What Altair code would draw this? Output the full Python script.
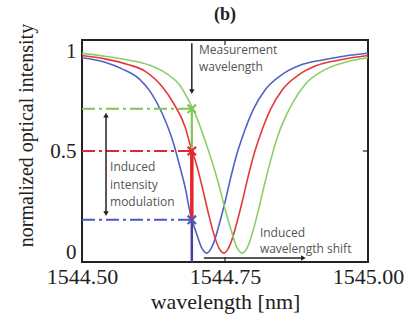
import altair as alt
import pandas as pd

# ---- curve data ----
blue_wl = [1544.50, 1544.54, 1544.57, 1544.60, 1544.62, 1544.64, 1544.66, 1544.67, 1544.68, 1544.69,
           1544.70, 1544.71, 1544.718, 1544.73, 1544.74, 1544.75, 1544.76, 1544.77, 1544.78, 1544.80,
           1544.82, 1544.85, 1544.88, 1544.92, 1544.96, 1545.00]
blue_t = [0.92, 0.90, 0.87, 0.825, 0.765, 0.67, 0.535, 0.44, 0.34, 0.21,
          0.13, 0.06, 0.04, 0.085, 0.17, 0.27, 0.38, 0.48, 0.56, 0.69,
          0.775, 0.845, 0.885, 0.91, 0.928, 0.94]

red_wl = [1544.50, 1544.54, 1544.58, 1544.61, 1544.64, 1544.66, 1544.68, 1544.69, 1544.70, 1544.71,
          1544.72, 1544.73, 1544.74, 1544.748, 1544.76, 1544.77, 1544.78, 1544.79, 1544.80, 1544.81,
          1544.83, 1544.85, 1544.88, 1544.91, 1544.95, 1545.00]
red_t = [0.93, 0.915, 0.89, 0.86, 0.79, 0.715, 0.61, 0.52, 0.44, 0.34,
         0.23, 0.13, 0.06, 0.04, 0.085, 0.17, 0.27, 0.38, 0.48, 0.56,
         0.69, 0.775, 0.845, 0.885, 0.91, 0.93]

green_wl = [1544.50, 1544.54, 1544.58, 1544.62, 1544.65, 1544.67, 1544.69, 1544.70, 1544.71, 1544.72,
            1544.73, 1544.74, 1544.75, 1544.76, 1544.77, 1544.78, 1544.79, 1544.80, 1544.81, 1544.82,
            1544.83, 1544.84, 1544.85, 1544.87, 1544.89, 1544.92, 1544.96, 1545.00]
green_t = [0.94, 0.927, 0.91, 0.885, 0.845, 0.80, 0.71, 0.655, 0.585, 0.51,
           0.43, 0.34, 0.24, 0.15, 0.07, 0.04, 0.07, 0.15, 0.25, 0.36,
           0.46, 0.55, 0.62, 0.725, 0.80, 0.86, 0.90, 0.92]

series_names = ["blue", "red", "green"]
series_colors = ["#5262c2", "#e4383b", "#8ccf66"]

measure_wl = 1544.692
levels = [0.19, 0.50, 0.69]
level_colors = ["#4d58b8", "#e02a2e", "#7fc655"]
seg_bottoms = [0.0, 0.19, 0.50]
seg_tops = [0.19, 0.50, 0.69]
seg_colors = ["#4a3f9c", "#e8242a", "#7fc655"]
seg_widths = [2.5, 3.5, 2.2]

x_ticks = [1544.50, 1544.75, 1545.00]
y_ticks = [0, 0.5, 1]

# ---- tables ----
curves = pd.concat([
    pd.DataFrame({"wl": blue_wl, "t": blue_t, "series": "blue"}),
    pd.DataFrame({"wl": red_wl, "t": red_t, "series": "red"}),
    pd.DataFrame({"wl": green_wl, "t": green_t, "series": "green"}),
])
hlines = pd.DataFrame({"x1": [1544.5] * 3, "x2": [measure_wl] * 3, "y": levels, "c": level_colors})
vsegs = pd.DataFrame({"x": [measure_wl] * 3, "y1": seg_bottoms, "y2": seg_tops,
                      "c": seg_colors, "w": seg_widths})
marks = pd.DataFrame({"x": [measure_wl] * 3, "y": levels, "c": level_colors})

x_scale = alt.Scale(domain=[1544.5, 1545.0], nice=False, zero=False)
y_scale = alt.Scale(domain=[0, 1], nice=False)
serif = "Liberation Serif"
sans = "Open Sans"
ann_color = "#555555"

lines = alt.Chart(curves).mark_line(strokeWidth=1.6, interpolate="monotone", clip=True).encode(
    x=alt.X("wl:Q", scale=x_scale,
            axis=alt.Axis(values=x_ticks, format=".2f", title="wavelength [nm]",
                          labelFont=serif, labelFontSize=22, labelColor="#222", labelPadding=4,
                          labelFlush=False, titleFont=serif, titleFontSize=22, titleFontWeight="normal",
                          titleColor="#222", titlePadding=4)),
    y=alt.Y("t:Q", scale=y_scale,
            axis=alt.Axis(values=y_ticks, labelExpr="datum.value == 0.5 ? '0.5' : format(datum.value, 'd')",
                          title="normalized optical intensity",
                          labelFont=serif, labelFontSize=21, labelColor="#222", labelPadding=6,
                          labelFlush=True, titleFont=serif, titleFontSize=20, titleFontWeight="normal",
                          titleColor="#222", titleAngle=-90, titleX=-56, titleY=95,
                          titleAlign="center", titleBaseline="middle")),
    color=alt.Color("series:N", scale=alt.Scale(domain=series_names, range=series_colors), legend=None),
    detail="series:N",
)

dash = alt.Chart(hlines).mark_rule(strokeWidth=2, strokeDash=[13, 4, 3, 4]).encode(
    x=alt.X("x1:Q", scale=x_scale), x2="x2:Q", y=alt.Y("y:Q", scale=y_scale),
    color=alt.Color("c:N", scale=None),
)

vert = alt.Chart(vsegs).mark_rule().encode(
    x=alt.X("x:Q", scale=x_scale), y=alt.Y("y1:Q", scale=y_scale), y2="y2:Q",
    color=alt.Color("c:N", scale=None), strokeWidth=alt.StrokeWidth("w:Q", scale=None),
)

xmarks = alt.Chart(marks).mark_point(shape="M-1,-1L1,1M-1,1L1,-1", filled=False, size=70,
                                     strokeWidth=2.2, opacity=1).encode(
    x=alt.X("x:Q", scale=x_scale), y=alt.Y("y:Q", scale=y_scale),
    color=alt.Color("c:N", scale=None),
)

# ---- annotation arrows ----
arrow_rules = pd.DataFrame({
    "x1": [measure_wl, 1544.542, 1544.713],
    "x2": [measure_wl, 1544.542, 1544.885],
    "y1": [0.985, 0.655, 0.018],
    "y2": [0.775, 0.225, 0.018],
})
arrows = alt.Chart(arrow_rules).mark_rule(strokeWidth=1.5, color="#222").encode(
    x=alt.X("x1:Q", scale=x_scale), x2="x2:Q",
    y=alt.Y("y1:Q", scale=y_scale), y2="y2:Q",
)
heads = pd.DataFrame({
    "x": [measure_wl, 1544.542, 1544.542, 1544.887],
    "y": [0.768, 0.662, 0.218, 0.018],
    "shape": ["triangle-down", "triangle-up", "triangle-down", "triangle-right"],
})
arrow_heads = alt.Chart(heads).mark_point(filled=True, size=30, color="#222", opacity=1).encode(
    x=alt.X("x:Q", scale=x_scale), y=alt.Y("y:Q", scale=y_scale),
    shape=alt.Shape("shape:N", scale=None),
)

# inward ticks
tick_df = pd.DataFrame({
    "x1": [1544.75, 1544.75, 1544.991],
    "x2": [1544.75, 1544.75, 1545.0],
    "y1": [0.0, 0.977, 0.5],
    "y2": [0.023, 1.0, 0.5],
})
ticks = alt.Chart(tick_df).mark_rule(strokeWidth=1.2, color="#222").encode(
    x=alt.X("x1:Q", scale=x_scale), x2="x2:Q",
    y=alt.Y("y1:Q", scale=y_scale), y2="y2:Q",
)

ann_text = pd.DataFrame({
    "x": [1544.7045, 1544.7045, 1544.549, 1544.549, 1544.549, 1544.811, 1544.811],
    "y": [0.955, 0.878, 0.428, 0.347, 0.272, 0.131, 0.059],
    "label": ["Measurement", "wavelength", "Induced", "intensity", "modulation",
              "Induced", "wavelength shift"],
})
texts = alt.Chart(ann_text).mark_text(align="left", baseline="middle", font=sans, fontSize=12,
                                       color=ann_color).encode(
    x=alt.X("x:Q", scale=x_scale), y=alt.Y("y:Q", scale=y_scale), text="label:N",
)

title_df = pd.DataFrame({"x": [1544.75], "y": [1.113], "label": ["(b)"]})
title = alt.Chart(title_df).mark_text(align="center", baseline="middle", font=serif, fontSize=18,
                                      fontWeight="bold", color="#222").encode(
    x=alt.X("x:Q", scale=x_scale), y=alt.Y("y:Q", scale=y_scale), text="label:N",
)

chart = alt.layer(lines, dash, vert, xmarks, arrows, arrow_heads, ticks, texts, title).properties(
    width=286, height=222,
    autosize=alt.AutoSizeParams(type="none"),
    padding={"left": 82, "top": 40, "right": 40, "bottom": 60},
).configure_view(stroke="#222", strokeWidth=2).configure_axis(
    domain=False, ticks=False, grid=False
)

chart.save("out.html", embed_options={"renderer": "svg", "actions": False})
